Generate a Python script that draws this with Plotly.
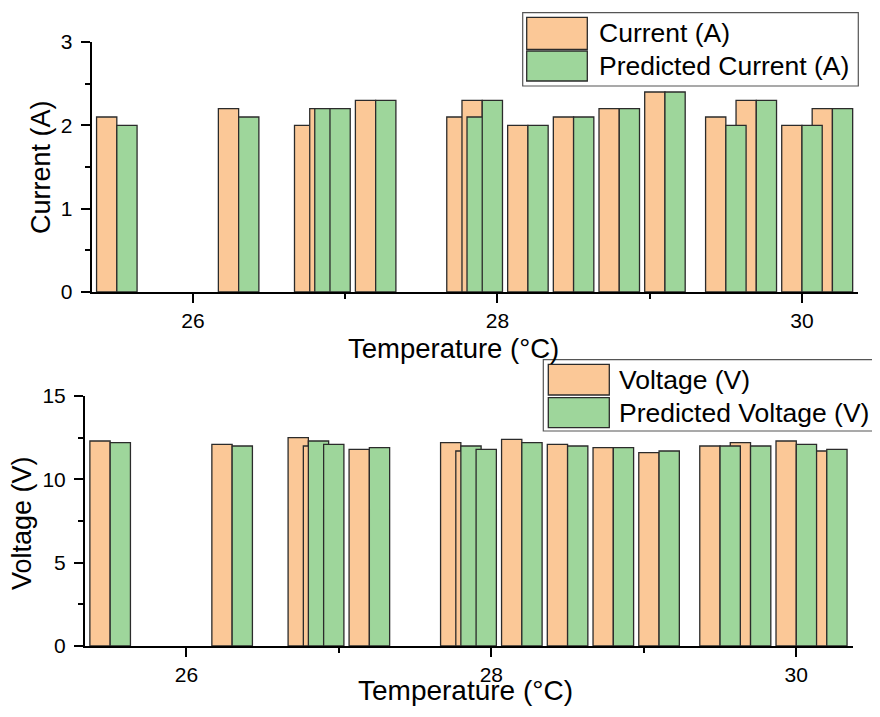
import plotly.graph_objects as go

# ---- data ----
temperature = [25.5, 26.3, 26.8, 26.9, 27.2, 27.8, 27.9, 28.2, 28.5, 28.8, 29.1, 29.5, 29.7, 30.0, 30.2]
current = [2.1, 2.2, 2.0, 2.2, 2.3, 2.1, 2.3, 2.0, 2.1, 2.2, 2.4, 2.1, 2.3, 2.0, 2.2]
predicted_current = [2.0, 2.1, 2.2, 2.2, 2.3, 2.1, 2.3, 2.0, 2.1, 2.2, 2.4, 2.0, 2.3, 2.0, 2.2]
voltage = [12.3, 12.1, 12.5, 12.0, 11.8, 12.2, 11.7, 12.4, 12.1, 11.9, 11.6, 12.0, 12.2, 12.3, 11.7]
predicted_voltage = [12.2, 12.0, 12.3, 12.1, 11.9, 12.0, 11.8, 12.2, 12.0, 11.9, 11.7, 12.0, 12.0, 12.1, 11.8]

W, H = 880, 717
OFF = 8  # page body margin: figure is drawn 8px from the window's corner
ORANGE = "#FBC897"
GREEN = "#9ED69B"
EDGE = "#2b2b2b"
FONT = "Liberation Sans, Arial, sans-serif"
BW = 0.133


def px(x):
    return (x - OFF) / W


def py(y):
    return 1 - (y - OFF) / H


fig = go.Figure()
for xa, ya, s1, s2, n1, n2 in [
    ("x", "y", current, predicted_current, "Current (A)", "Predicted Current (A)"),
    ("x2", "y2", voltage, predicted_voltage, "Voltage (V)", "Predicted Voltage (V)"),
]:
    fig.add_trace(go.Bar(x=temperature, y=s1, name=n1, width=BW, offset=-BW,
                         marker=dict(color=ORANGE, line=dict(color=EDGE, width=1.3)),
                         xaxis=xa, yaxis=ya, showlegend=False))
    fig.add_trace(go.Bar(x=temperature, y=s2, name=n2, width=BW, offset=0,
                         marker=dict(color=GREEN, line=dict(color=EDGE, width=1.3)),
                         xaxis=xa, yaxis=ya, showlegend=False))

tickfont = dict(family=FONT, size=21, color="black")
axcommon = dict(showline=True, linewidth=2, linecolor="black", showgrid=False,
                zeroline=False, ticks="outside", ticklen=9, tickwidth=2,
                tickcolor="black", tickfont=tickfont, automargin=False)

xr = [25.335, 30.37]
fig.update_layout(
    template="none",
    width=W, height=H, margin=dict(l=0, r=0, t=0, b=0, pad=0, autoexpand=False),
    paper_bgcolor="white", plot_bgcolor="white", barmode="overlay",
    font=dict(family=FONT, color="black"),
    xaxis=dict(domain=[px(91.7), px(858.3)], range=xr, dtick=2, tick0=0,
               minor=dict(ticks="outside", ticklen=5, tickwidth=2, dtick=1, tickcolor="black"),
               anchor="y", ticklabelstandoff=0, **axcommon),
    yaxis=dict(domain=[py(292), py(42)], range=[0, 3], dtick=1,
               minor=dict(ticks="outside", ticklen=5, tickwidth=2, dtick=0.5, tickcolor="black"),
               anchor="x", ticklabelstandoff=4, **axcommon),
    xaxis2=dict(domain=[px(85), px(852.7)], range=xr, dtick=2, tick0=0,
                minor=dict(ticks="outside", ticklen=5, tickwidth=2, dtick=1, tickcolor="black"),
                anchor="y2", ticklabelstandoff=0, **axcommon),
    yaxis2=dict(domain=[py(646), py(396)], range=[0, 15], dtick=5,
                minor=dict(ticks="outside", ticklen=5, tickwidth=2, dtick=2.5, tickcolor="black"),
                anchor="x2", ticklabelstandoff=4, **axcommon),
)

anns = [
    ("Temperature (°C)", 453.8, 348, 0, 27.5),
    ("Current (A)", 41, 167, -90, 27),
    ("Temperature (°C)", 465, 690, 0, 28),
    ("Voltage (V)", 22, 523, -90, 27),
]
for text, x, y, ang, fs in anns:
    fig.add_annotation(text=text, x=px(x), y=py(y), xref="paper", yref="paper",
                       xanchor="center", yanchor="middle", textangle=ang,
                       showarrow=False, font=dict(family=FONT, size=fs, color="black"))

# ---- custom legends (large swatches) ----
legends = [
    dict(box=(522.7, 12.7, 858.3, 86), sw_x=(526.7, 587.3),
         rows=[((17.3, 49.3), ORANGE, "Current (A)"), ((51, 81), GREEN, "Predicted Current (A)")],
         tx=596.7),
    dict(box=(543.3, 359.7, 879, 431), sw_x=(548.3, 609.3),
         rows=[((364.3, 395), ORANGE, "Voltage (V)"), ((397.7, 427.7), GREEN, "Predicted Voltage (V)")],
         tx=617.3),
]
for lg in legends:
    x0, y0, x1, y1 = lg["box"]
    fig.add_shape(type="rect", xref="paper", yref="paper", x0=px(x0), x1=px(x1),
                  y0=py(y1), y1=py(y0), line=dict(color="#555555", width=1.2),
                  fillcolor="white", layer="above")
    for (ya, yb), col, label in lg["rows"]:
        fig.add_shape(type="rect", xref="paper", yref="paper",
                      x0=px(lg["sw_x"][0]), x1=px(lg["sw_x"][1]), y0=py(yb), y1=py(ya),
                      line=dict(color=EDGE, width=1.3), fillcolor=col, layer="above")
        fig.add_annotation(text=label, x=px(lg["tx"]), y=py((ya + yb) / 2),
                           xref="paper", yref="paper", xanchor="left", yanchor="middle",
                           showarrow=False, font=dict(family=FONT, size=26.5, color="black"))

fig.write_html("out.html")
